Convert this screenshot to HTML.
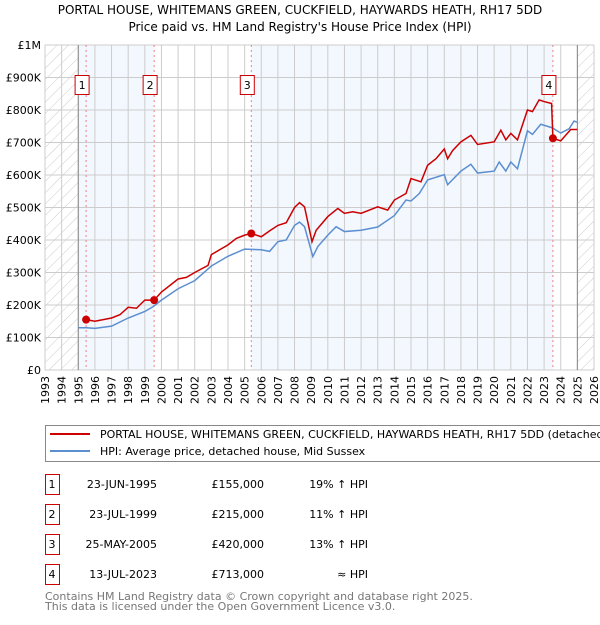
<!DOCTYPE html>
<html><head><meta charset="utf-8"><style>
body{margin:0;background:#fff;}
svg text{font-family:"DejaVu Sans","Liberation Sans",sans-serif;}
</style></head><body>
<svg id="c" width="600" height="620" viewBox="0 0 600 620">
<defs>
<pattern id="hatch" width="8" height="8" patternUnits="userSpaceOnUse" patternTransform="rotate(45)">
<line x1="0" y1="0" x2="0" y2="8" stroke="#ccc" stroke-width="1"/>
</pattern>
<clipPath id="pc"><rect x="45" y="45" width="549" height="325"/></clipPath>
</defs>
<text x="300" y="14" font-size="12" text-anchor="middle">PORTAL HOUSE, WHITEMANS GREEN, CUCKFIELD, HAYWARDS HEATH, RH17 5DD</text>
<text x="300" y="31" font-size="12" text-anchor="middle">Price paid vs. HM Land Registry's House Price Index (HPI)</text>
<g id="plot"></g>
<g>
<rect x="45.5" y="425.5" width="570" height="36" fill="#fff" stroke="#888"/>
<line x1="50" y1="434" x2="90" y2="434" stroke="#cc0000" stroke-width="2"/>
<text x="100" y="438" font-size="11">PORTAL HOUSE, WHITEMANS GREEN, CUCKFIELD, HAYWARDS HEATH, RH17 5DD (detached house)</text>
<line x1="50" y1="451" x2="90" y2="451" stroke="#5b8fd0" stroke-width="2"/>
<text x="100" y="455" font-size="11">HPI: Average price, detached house, Mid Sussex</text>
</g>
<g id="table"></g>
<text x="45" y="600" font-size="11" fill="#777">Contains HM Land Registry data © Crown copyright and database right 2025.</text>
<text x="45" y="610" font-size="11" fill="#777">This data is licensed under the Open Government Licence v3.0.</text>
</svg>
<script>
const hpiYears=[1995.0,1995.5,1996,1997,1998,1999,1999.5,2000,2001,2002,2003,2004,2005,2006,2006.5,2007,2007.5,2008,2008.3,2008.6,2009.1,2009.4,2010,2010.5,2011,2012,2013,2014,2014.7,2015,2015.5,2016,2017,2017.2,2018,2018.6,2019,2020,2020.3,2020.7,2021,2021.4,2022,2022.3,2022.8,2023.5,2024,2024.5,2024.8,2025];
const hpiValues=[130,130,128,135,160,180,195,215,250,275,320,350,372,370,365,395,400,445,455,441,349,380,415,441,426,430,440,475,523,520,543,585,601,570,612,633,606,612,640,612,640,619,736,725,756,745,729,742,766,762];
const redYears=[1995.47,1996,1997,1997.5,1998,1998.5,1999,1999.56,2000,2001,2001.5,2002,2002.8,2003,2004,2004.5,2005,2005.4,2006,2006.5,2007,2007.5,2008,2008.3,2008.6,2009.05,2009.3,2010,2010.6,2011,2011.5,2012,2013,2013.6,2014,2014.7,2015,2015.6,2016,2016.5,2017,2017.2,2017.5,2018,2018.6,2019,2020,2020.4,2020.7,2021,2021.4,2022,2022.3,2022.7,2023,2023.45,2023.53,2024,2024.6,2025];
const redValues=[155,150,160,170,193,190,215,215,240,280,285,300,322,355,385,405,415,420,410,428,445,453,500,515,502,395,430,472,497,482,487,482,502,492,523,543,589,579,630,650,680,650,675,702,722,694,702,738,708,728,708,800,795,831,826,820,713,705,740,740];
const saleYears=[1995.47,1999.56,2005.4,2023.53];
const saleValues=[155,215,420,713];
const saleLabels=["1","2","3","4"];
const saleDates=["23-JUN-1995","23-JUL-1999","25-MAY-2005","13-JUL-2023"];
const salePrices=["£155,000","£215,000","£420,000","£713,000"];
const saleHpi=["19% ↑ HPI","11% ↑ HPI","13% ↑ HPI","≈ HPI"];
const yTicks=[0,100,200,300,400,500,600,700,800,900,1000];
const yTickLabels=["£0","£100K","£200K","£300K","£400K","£500K","£600K","£700K","£800K","£900K","£1M"];
const xTicks=[1993,1994,1995,1996,1997,1998,1999,2000,2001,2002,2003,2004,2005,2006,2007,2008,2009,2010,2011,2012,2013,2014,2015,2016,2017,2018,2019,2020,2021,2022,2023,2024,2025,2026];

const X0=45,X1=594,Y0=370,Y1=45;
const xs=y=>X0+(y-1993)/(2026-1993)*(X1-X0);
const ys=v=>Y0-v/1000*(Y0-Y1);
const NS="http://www.w3.org/2000/svg";
const plot=document.getElementById('plot');
function mk(tag,attrs,parent){const e=document.createElementNS(NS,tag);for(const k in attrs)e.setAttribute(k,attrs[k]);(parent||plot).appendChild(e);return e;}

let r=mk('rect',{x:X0,y:Y1,width:X1-X0,height:Y0-Y1,fill:'#fff'});


// shaded spans
const spans=[[1995,saleYears[1]],[saleYears[2],saleYears[3]]];
spans.forEach(s=>{const e=mk('rect',{x:xs(s[0]),y:Y1,width:xs(s[1])-xs(s[0]),height:Y0-Y1,fill:'#eef3fd',opacity:0.7});

});
// hatch
let h1=mk('rect',{x:X0,y:Y1,width:xs(1995)-X0,height:Y0-Y1,fill:'url(#hatch)'});


let h2=mk('rect',{x:xs(2025),y:Y1,width:X1-xs(2025),height:Y0-Y1,fill:'url(#hatch)'});


// grid
xTicks.forEach(t=>{const l=mk('line',{x1:xs(t),x2:xs(t),y1:Y1,y2:Y0,stroke:'#ccc','stroke-width':1});


const tx=mk('text',{x:0,y:0,'font-size':11,'text-anchor':'end',transform:`translate(${xs(t)+4},${Y0+6}) rotate(-90)`});
tx.textContent=t;

});
yTicks.forEach((t,i)=>{const l=mk('line',{x1:X0,x2:X1,y1:ys(t),y2:ys(t),stroke:'#ccc','stroke-width':1});


const tx=mk('text',{x:X0-4,y:ys(t)+4,'font-size':11,'text-anchor':'end'});
tx.textContent=yTickLabels[i];

});
[1995,2025].forEach(t=>{const l=mk('line',{x1:xs(t),x2:xs(t),y1:Y1,y2:Y0,stroke:'#888','stroke-width':1});

});
// sale dashed lines
saleYears.forEach(s=>{const l=mk('line',{x1:xs(s),x2:xs(s),y1:Y1,y2:Y0,stroke:'#f08080','stroke-width':1,'stroke-dasharray':'2,3'});

});
// lines
const g=mk('g',{'clip-path':'url(#pc)'});


let hp=mk('polyline',{points:hpiYears.map((y,i)=>xs(y)+','+ys(hpiValues[i])).join(' '),fill:'none',stroke:'#5b8fd0','stroke-width':1.5},g);


let rp=mk('polyline',{points:redYears.map((y,i)=>xs(y)+','+ys(redValues[i])).join(' '),fill:'none',stroke:'#cc0000','stroke-width':1.5},g);


saleYears.forEach((s,i)=>{const c=mk('circle',{cx:xs(s),cy:ys(saleValues[i]),r:4,fill:'#cc0000'});


const b=mk('rect',{x:xs(s)-11,y:75.5,width:14,height:19,fill:'#fff',stroke:'#cc0000'});


const t=mk('text',{x:xs(s)-4,y:89,'font-size':11,'text-anchor':'middle'});
t.textContent=saleLabels[i];

});
// table
const tb=document.getElementById('table');
saleLabels.forEach((lab,i)=>{const cy=483+i*30;
const b=mk('rect',{x:45.5,y:cy-8.5,width:14,height:20,fill:'#fff',stroke:'#cc0000'},tb);


const cols=[[52,'middle',lab,'table-row-number'],[157,'end',saleDates[i],'table-date'],[264,'end',salePrices[i],'table-price'],[368,'end',saleHpi[i],'table-hpi-diff']];
cols.forEach(c=>{const t=mk('text',{x:c[0],y:cy+5,'font-size':11,'text-anchor':c[1]},tb);
t.textContent=c[2];

});});
</script>
</body></html>
